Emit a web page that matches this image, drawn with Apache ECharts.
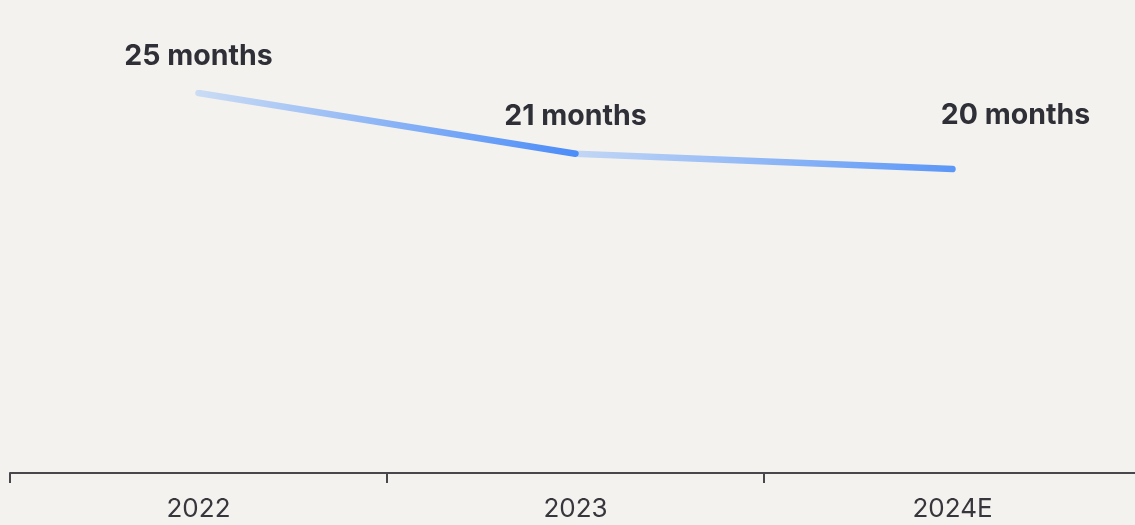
<!DOCTYPE html>
<html>
<head>
<meta charset="utf-8">
<script src="https://cdn.jsdelivr.net/npm/echarts@6/dist/echarts.min.js"></script>
<style>
  html, body { margin: 0; padding: 0; background: #f4f2ee; overflow: hidden; }
  /* canvas runs a little past the right edge so the last category is cut off */
  #chart { width: 1141px; height: 525px; }
</style>
</head>
<body>
<div id="chart"></div>
<script>
// Average duration, in months, by year
const years = ['2022', '2023', '2024E'];
const months = [25, 21, 20];
const labelSuffix = ' months';

const chart = echarts.init(document.getElementById('chart'), null, { renderer: 'canvas' });

const labelBase = {
  show: true,
  position: 'top',
  distance: 22,
  fontFamily: 'Inter',
  fontWeight: 700,
  fontSize: 28.5,
  color: '#2f2f37',
  formatter: p => p.value + labelSuffix
};

function point(i, extra) {
  return { value: months[i], label: Object.assign({}, labelBase, extra || {}) };
}

function grad(from, to) {
  return new echarts.graphic.LinearGradient(0, 0, 1, 0, [
    { offset: 0, color: from },
    { offset: 1, color: to }
  ]);
}

const common = {
  type: 'line',
  smooth: false,
  symbol: 'circle',
  symbolSize: 1,
  itemStyle: { color: 'rgba(0,0,0,0)' },
  emphasis: { disabled: true },
  silent: true
};

chart.setOption({
  backgroundColor: '#f4f2ee',
  animation: false,
  grid: { left: 10, top: 93, right: 0, bottom: 52, containLabel: false },
  xAxis: {
    type: 'category',
    data: years,
    boundaryGap: true,
    axisLine: { lineStyle: { color: '#47474c', width: 2 } },
    axisTick: { show: true, length: 10, lineStyle: { color: '#47474c', width: 2 } },
    axisLabel: { fontFamily: 'Inter', fontSize: 26, color: '#36363c', margin: 23 },
    splitLine: { show: false }
  },
  yAxis: { type: 'value', min: 0, max: 25, show: false },
  series: [
    Object.assign({}, common, {
      name: '2023–2024E',
      z: 2,
      data: ['-', point(1, { show: false }), point(2, { offset: [63, -17] })],
      lineStyle: { width: 6.5, cap: 'round', color: grad('#c3d7f5', '#5b97f7') }
    }),
    Object.assign({}, common, {
      name: '2022–2023',
      z: 3,
      data: [point(0), point(1), '-'],
      lineStyle: { width: 6.5, cap: 'round', color: grad('#cbdcf4', '#4b8cf8') }
    })
  ]
});
</script>
</body>
</html>
